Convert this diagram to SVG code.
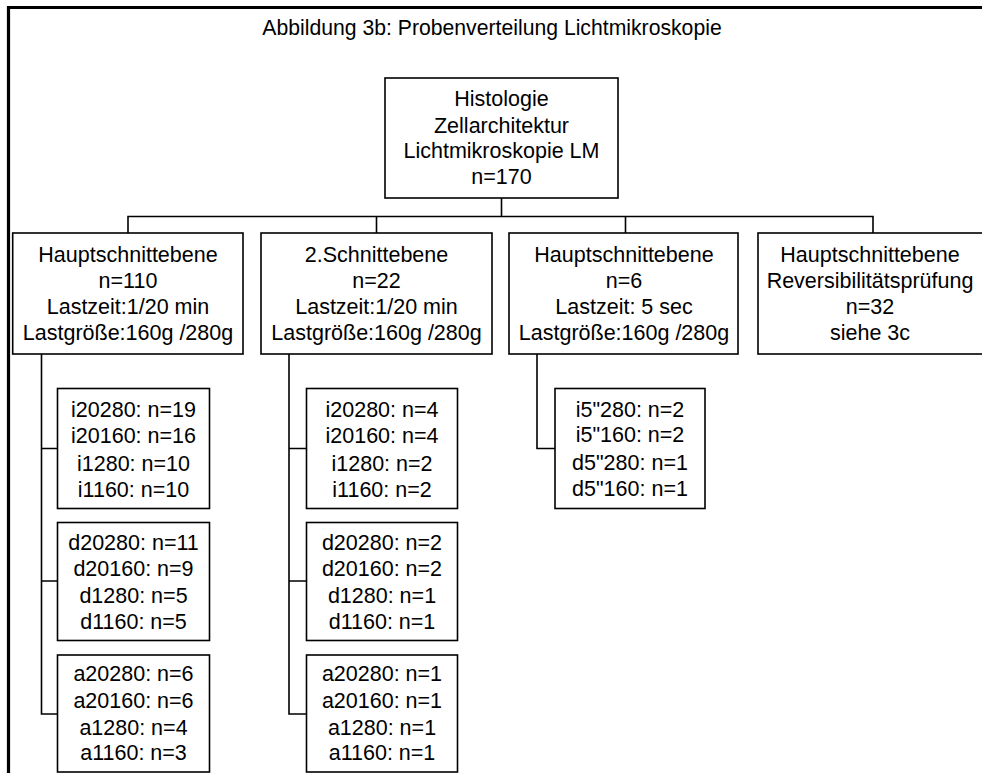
<svg xmlns="http://www.w3.org/2000/svg" width="982" height="773" viewBox="0 0 982 773">
<style>
text{font-family:"Liberation Sans",Arial,sans-serif;font-size:21.5px;fill:#000;text-anchor:middle}
#title text{font-size:21.2px}
.box{fill:#fff;stroke:#000;stroke-width:1.6}
.con{fill:none;stroke:#000;stroke-width:1.6}
.frame{fill:none;stroke:#000;stroke-width:3.2}
</style>
<rect width="982" height="773" fill="#fff"/>
<path class="frame" d="M8.5,773 V7.5 H982"/>
<g id="title"><text x="492" y="35">Abbildung 3b: Probenverteilung Lichtmikroskopie</text></g>
<g id="connectors">
<path class="con" d="M501.5,198 V216.5 M128,233 V216.5 H873 V233 M376.5,216.5 V233 M625.5,216.5 V233"/>
<path class="con" d="M41.5,354 V714 H57.5 M41.5,448.5 H57.5 M41.5,581 H57.5"/>
<path class="con" d="M289,354 V714 H306.5 M289,448.5 H306.5 M289,581 H306.5"/>
<path class="con" d="M537,354 V448.5 H555"/>
</g>
<g id="root">
<rect class="box" x="385" y="78" width="233" height="120"/>
<text x="501.5" y="106">Histologie</text>
<text x="501.5" y="132.5">Zellarchitektur</text>
<text x="501.5" y="158">Lichtmikroskopie LM</text>
<text x="501.5" y="184">n=170</text>
</g>
<g id="b1">
<rect class="box" x="12.7" y="233" width="230.3" height="121"/>
<text x="128" y="262">Hauptschnittebene</text>
<text x="128" y="287.5">n=110</text>
<text x="128" y="313.5">Lastzeit:1/20 min</text>
<text x="128" y="339.5">Lastgröße:160g /280g</text>
</g>
<g id="b2">
<rect class="box" x="261" y="233" width="231" height="121"/>
<text x="376.5" y="262">2.Schnittebene</text>
<text x="376.5" y="287.5">n=22</text>
<text x="376.5" y="313.5">Lastzeit:1/20 min</text>
<text x="376.5" y="339.5">Lastgröße:160g /280g</text>
</g>
<g id="b3">
<rect class="box" x="509" y="233" width="229" height="121"/>
<text x="624" y="262">Hauptschnittebene</text>
<text x="624" y="287.5">n=6</text>
<text x="624" y="313.5">Lastzeit: 5 sec</text>
<text x="624" y="339.5">Lastgröße:160g /280g</text>
</g>
<g id="b4">
<rect class="box" x="758" y="233" width="230" height="121"/>
<text x="870" y="262">Hauptschnittebene</text>
<text x="870" y="287.5">Reversibilitätsprüfung</text>
<text x="870" y="313.5">n=32</text>
<text x="870" y="339.5">siehe 3c</text>
</g>
<g id="s1i">
<rect class="box" x="57.5" y="388.5" width="152" height="120"/>
<text x="133.5" y="417">i20280: n=19</text>
<text x="133.5" y="443">i20160: n=16</text>
<text x="133.5" y="470.5">i1280: n=10</text>
<text x="133.5" y="496.5">i1160: n=10</text>
</g>
<g id="s1d">
<rect class="box" x="57.5" y="522.5" width="152" height="118"/>
<text x="133.5" y="549.5">d20280: n=11</text>
<text x="133.5" y="575.5">d20160: n=9</text>
<text x="133.5" y="603">d1280: n=5</text>
<text x="133.5" y="628.5">d1160: n=5</text>
</g>
<g id="s1a">
<rect class="box" x="57.5" y="655" width="152" height="117"/>
<text x="133.5" y="681">a20280: n=6</text>
<text x="133.5" y="708">a20160: n=6</text>
<text x="133.5" y="735">a1280: n=4</text>
<text x="133.5" y="760">a1160: n=3</text>
</g>
<g id="s2i">
<rect class="box" x="306.5" y="388.5" width="151" height="120"/>
<text x="382" y="417">i20280: n=4</text>
<text x="382" y="443">i20160: n=4</text>
<text x="382" y="470.5">i1280: n=2</text>
<text x="382" y="496.5">i1160: n=2</text>
</g>
<g id="s2d">
<rect class="box" x="306.5" y="522.5" width="151" height="118"/>
<text x="382" y="549.5">d20280: n=2</text>
<text x="382" y="575.5">d20160: n=2</text>
<text x="382" y="603">d1280: n=1</text>
<text x="382" y="628.5">d1160: n=1</text>
</g>
<g id="s2a">
<rect class="box" x="306.5" y="655" width="151" height="117"/>
<text x="382" y="681">a20280: n=1</text>
<text x="382" y="708">a20160: n=1</text>
<text x="382" y="735">a1280: n=1</text>
<text x="382" y="760">a1160: n=1</text>
</g>
<g id="s3">
<rect class="box" x="555" y="388.5" width="150" height="120"/>
<text x="630" y="416.5">i5"280: n=2</text>
<text x="630" y="442">i5"160: n=2</text>
<text x="630" y="470">d5"280: n=1</text>
<text x="630" y="495.5">d5"160: n=1</text>
</g>
</svg>
